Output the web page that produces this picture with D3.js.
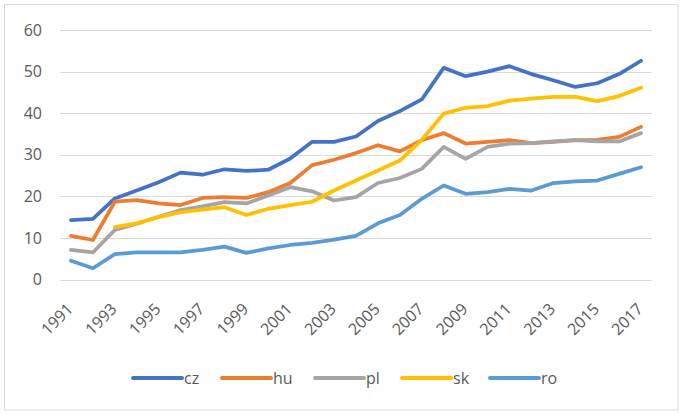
<!DOCTYPE html>
<html>
<head>
<meta charset="utf-8">
<script src="https://cdnjs.cloudflare.com/ajax/libs/d3/7.8.5/d3.min.js"></script>
<style>
  body { margin: 0; background: #fff; }
  text { font-family: "Open Sans", "Liberation Sans", sans-serif; fill: #595959; }
</style>
</head>
<body>
<script>
const years = d3.range(1991, 2018);
const yTicks = [0, 10, 20, 30, 40, 50, 60];

const cz = [14.3, 14.6, 19.5, 21.4, 23.4, 25.7, 25.2, 26.5, 26.1, 26.4, 29.1, 33.1, 33.1, 34.4,
            38.1, 40.5, 43.3, 50.9, 48.9, 50.0, 51.3, 49.4, 47.9, 46.3, 47.2, 49.4, 52.6];
const hu = [10.5, 9.5, 18.7, 19.1, 18.3, 17.9, 19.6, 19.8, 19.6, 21.0, 23.2, 27.5, 28.8, 30.4,
            32.3, 30.8, 33.5, 35.2, 32.7, 33.1, 33.5, 32.8, 33.1, 33.5, 33.6, 34.3, 36.7];
const pl = [7.1, 6.5, 11.9, 13.4, 15.1, 16.7, 17.6, 18.6, 18.3, 20.2, 22.2, 21.2, 19.0, 19.8,
            23.2, 24.4, 26.6, 31.9, 29.0, 31.9, 32.7, 32.8, 33.2, 33.5, 33.2, 33.2, 35.2];
const sk = [null, null, 12.6, 13.5, 15.0, 16.2, 16.8, 17.4, 15.5, 17.0, 17.9, 18.7, 21.4, 23.8,
            26.2, 28.6, 33.6, 39.9, 41.3, 41.7, 43.0, 43.5, 43.9, 43.9, 42.9, 44.1, 46.1];
const ro = [4.5, 2.7, 6.1, 6.5, 6.5, 6.5, 7.1, 7.9, 6.4, 7.5, 8.3, 8.8, 9.6, 10.5,
            13.5, 15.5, 19.4, 22.6, 20.6, 21.0, 21.8, 21.4, 23.2, 23.6, 23.8, 25.4, 27.0];

const seriesNames = ["cz", "hu", "pl", "sk", "ro"];
const seriesValues = [cz, hu, pl, sk, ro];
const colors = ["#4472C4", "#ED7D31", "#A5A5A5", "#FFC000", "#5B9BD5"];

const W = 685, H = 415;
const svg = d3.select("body").append("svg").attr("width", W).attr("height", H);

svg.append("rect")
  .attr("x", 4.5).attr("y", 4.5).attr("width", 673.5).attr("height", 405.5)
  .attr("fill", "#fff").attr("stroke", "#d9d9d9");

const x = d3.scaleBand().domain(years).range([60, 652]);
const y = d3.scaleLinear().domain([0, 60]).range([279.5, 30]);
const cx = d => x(d) + x.bandwidth() / 2;

// gridlines
svg.append("g").selectAll("line").data(yTicks).join("line")
  .attr("x1", 60).attr("x2", 652)
  .attr("y1", d => Math.round(y(d)) + 0.5).attr("y2", d => Math.round(y(d)) + 0.5)
  .attr("stroke", "#d9d9d9").attr("stroke-width", 1);

// y labels
svg.append("g").selectAll("text").data(yTicks).join("text")
  .attr("x", 42).attr("y", d => y(d)).attr("dy", "0.35em")
  .attr("text-anchor", "end").attr("font-size", 16)
  .text(d => d);

// x labels
svg.append("g").selectAll("text").data(years.filter((d, i) => i % 2 === 0)).join("text")
  .attr("transform", d => "translate(" + (cx(d) + 3) + ",310) rotate(-45)")
  .attr("text-anchor", "end").attr("font-size", 16)
  .text(d => d);

// lines
const line = d3.line()
  .defined(d => d.v != null)
  .x(d => cx(d.year))
  .y(d => y(d.v));

seriesValues.forEach((vals, k) => {
  svg.append("path")
    .datum(vals.map((v, i) => ({ year: years[i], v: v })))
    .attr("d", line)
    .attr("fill", "none")
    .attr("stroke", colors[k])
    .attr("stroke-width", 3.75)
    .attr("stroke-linejoin", "round")
    .attr("stroke-linecap", "round");
});

// legend
const legendX = [133, 222, 315, 402, 490];
const legend = svg.append("g").selectAll("g").data(seriesNames).join("g")
  .attr("transform", (d, i) => "translate(" + legendX[i] + ",378)");
legend.append("line")
  .attr("x1", 0).attr("x2", 49).attr("y1", 0).attr("y2", 0)
  .attr("stroke", (d, i) => colors[i]).attr("stroke-width", 4)
  .attr("stroke-linecap", "round");
legend.append("text")
  .attr("x", 51).attr("y", 0).attr("dy", "0.35em").attr("font-size", 16)
  .text(d => d);
</script>
</body>
</html>
